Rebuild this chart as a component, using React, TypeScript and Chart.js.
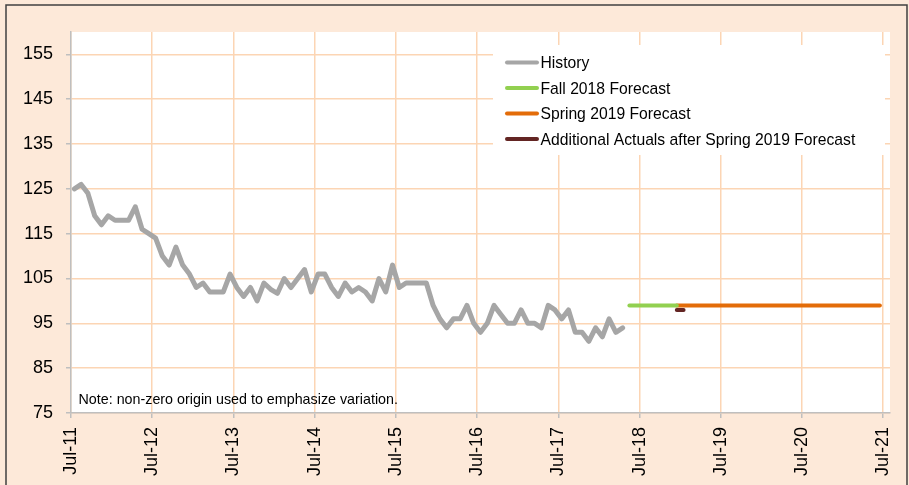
import React, { useEffect, useRef } from "react";
import { Chart, registerables } from "chart.js";

Chart.register(...registerables);

// ---------- data ----------
// x values are months since Jul-2011; monthly observations sit at mid-month
const MID_MONTH = 0.5;
const X_TICK_MONTHS = [0, 12, 24, 36, 48, 60, 72, 84, 96, 108, 120];
const X_TICK_LABELS = ["Jul-11", "Jul-12", "Jul-13", "Jul-14", "Jul-15", "Jul-16", "Jul-17", "Jul-18", "Jul-19", "Jul-20", "Jul-21"];
const Y_TICKS = [75, 85, 95, 105, 115, 125, 135, 145, 155];

const HISTORY_START_MONTH = 0;
const HISTORY = [
  125, 126, 124, 119, 117, 119, 118, 118, 118, 121, 116, 115,
  114, 110, 108, 112, 108, 106, 103, 104, 102, 102, 102, 106,
  103, 101, 103, 100, 104, 102.6, 101.7, 105, 103, 105, 107, 102,
  106, 106, 103, 101, 104, 102, 103, 102, 100, 105, 102, 108,
  103, 104, 104, 104, 104, 99, 96, 94, 96, 96, 99, 95,
  93, 95, 99, 97, 95, 95, 98, 95, 95, 94, 99, 98,
  96, 98, 93, 93, 91, 94, 92, 96, 93, 94,
];

const FALL_2018_MONTHS = [82, 89];
const FALL_2018 = [99, 99];

const SPRING_2019_MONTHS = [89, 119];
const SPRING_2019 = [99, 99];

const ADDITIONAL_MONTHS = [89, 90];
const ADDITIONAL_ACTUALS = [98, 98];

const SERIES_NAMES = [
  "History",
  "Fall 2018 Forecast",
  "Spring 2019 Forecast",
  "Additional Actuals after Spring 2019 Forecast",
];
const NOTE = "Note: non-zero origin used to emphasize variation.";

// ---------- styles ----------
const FONT = "'Liberation Sans', Arial, sans-serif";
const BG = "#FDE9D9";
const GRID = "#FCD5B4";
const AXIS = "#BFBFBF";
const COLORS = ["#A6A6A6", "#92D050", "#E36C09", "#632523"];

const W = 909;
const H = 485;

function pts(months: number[], values: number[]) {
  return values.map((v, i) => ({ x: months[i] + MID_MONTH, y: v }));
}

const decorPlugin = {
  id: "decor",
  beforeDraw(chart: any) {
    const { ctx, chartArea } = chart;
    ctx.save();
    ctx.fillStyle = BG;
    ctx.fillRect(0, 0, W, H);
    ctx.fillStyle = "#FFFFFF";
    ctx.fillRect(chartArea.left, chartArea.top, chartArea.right - chartArea.left, chartArea.bottom - chartArea.top);
    ctx.strokeStyle = "#404040";
    ctx.lineWidth = 1.5;
    ctx.beginPath();
    ctx.moveTo(6, H);
    ctx.lineTo(6, 5);
    ctx.lineTo(907, 5);
    ctx.lineTo(907, H);
    ctx.stroke();
    ctx.restore();
  },
  beforeDatasetsDraw(chart: any) {
    const { ctx, chartArea } = chart;
    ctx.save();
    // legend box
    ctx.fillStyle = "#FFFFFF";
    ctx.fillRect(493, 45, 885 - 493, 110);
    ctx.font = `15.7px ${FONT}`;
    ctx.textBaseline = "alphabetic";
    ctx.textAlign = "left";
    SERIES_NAMES.forEach((name, i) => {
      const base = 68.3 + i * 25.5;
      ctx.strokeStyle = COLORS[i];
      ctx.lineWidth = 4;
      ctx.lineCap = "round";
      ctx.beginPath();
      ctx.moveTo(507, base - 5.7);
      ctx.lineTo(537, base - 5.7);
      ctx.stroke();
      ctx.fillStyle = "#000000";
      ctx.fillText(name, 540.5, base);
    });
    // note
    ctx.font = `14.3px ${FONT}`;
    ctx.fillStyle = "#000000";
    ctx.fillText(NOTE, chartArea.left + 7.5, 404);
    ctx.restore();
  },
};

export default function App() {
  const ref = useRef<HTMLCanvasElement | null>(null);

  useEffect(() => {
    if (!ref.current) return;
    const chart = new Chart(ref.current, {
      type: "line",
      data: {
        datasets: [
          { label: SERIES_NAMES[0], data: pts(HISTORY.map((_, i) => HISTORY_START_MONTH + i), HISTORY), borderColor: COLORS[0], borderWidth: 5 },
          { label: SERIES_NAMES[1], data: pts(FALL_2018_MONTHS, FALL_2018), borderColor: COLORS[1], borderWidth: 4 },
          { label: SERIES_NAMES[2], data: pts(SPRING_2019_MONTHS, SPRING_2019), borderColor: COLORS[2], borderWidth: 4 },
          { label: SERIES_NAMES[3], data: pts(ADDITIONAL_MONTHS, ADDITIONAL_ACTUALS), borderColor: COLORS[3], borderWidth: 4 },
        ],
      },
      options: {
        animation: false,
        responsive: false,
        devicePixelRatio: 1,
        layout: { padding: { left: 0, top: 32, right: 19, bottom: 0 } },
        plugins: { legend: { display: false }, tooltip: { enabled: false } },
        elements: {
          point: { radius: 0 },
          line: { tension: 0, borderJoinStyle: "round", borderCapStyle: "round", fill: false },
        },
        scales: {
          x: {
            type: "linear",
            min: 0,
            max: 121,
            afterBuildTicks: (s: any) => {
              s.ticks = X_TICK_MONTHS.map((v) => ({ value: v }));
            },
            afterFit: (s: any) => {
              s.height = 72;
              s.paddingLeft = 0;
              s.paddingRight = 0;
            },
            ticks: {
              autoSkip: false,
              minRotation: 90,
              maxRotation: 90,
              padding: 9,
              color: "#000000",
              font: { family: FONT, size: 18 },
              callback: (v: any) => X_TICK_LABELS[X_TICK_MONTHS.indexOf(Number(v))] ?? "",
            },
            grid: { color: GRID, lineWidth: 1.5, tickColor: AXIS, tickLength: 5, drawTicks: true },
            border: { color: AXIS, width: 1.5 },
          },
          y: {
            type: "linear",
            min: 75,
            max: 160,
            afterBuildTicks: (s: any) => {
              s.ticks = Y_TICKS.map((v) => ({ value: v }));
            },
            afterFit: (s: any) => {
              s.width = 71;
              s.paddingTop = 0;
              s.paddingBottom = 0;
            },
            ticks: {
              padding: 13,
              color: "#000000",
              font: { family: FONT, size: 18 },
              callback: (v: any) => String(v),
            },
            grid: { color: GRID, lineWidth: 1.5, tickColor: AXIS, tickLength: 5, drawTicks: true },
            border: { color: AXIS, width: 1.5 },
          },
        },
      },
      plugins: [decorPlugin],
    } as any);
    return () => chart.destroy();
  }, []);

  return (
    <div style={{ position: "fixed", left: 0, top: 0, width: W, height: H }}>
      <canvas ref={ref} width={W} height={H} style={{ display: "block", width: W, height: H }} />
    </div>
  );
}
